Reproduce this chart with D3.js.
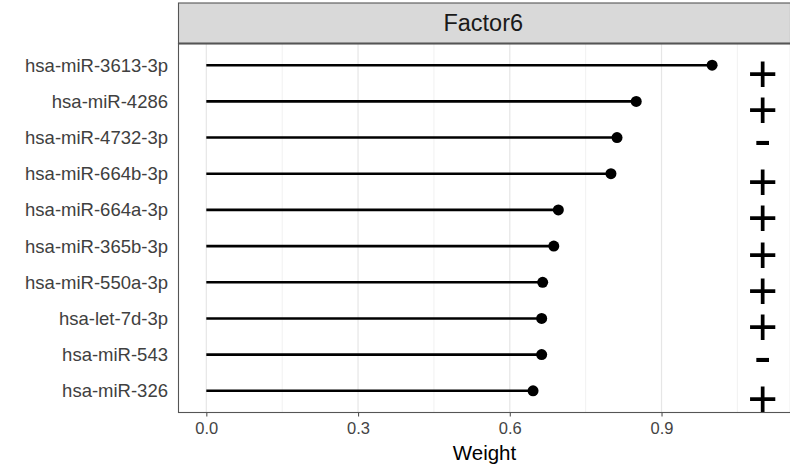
<!DOCTYPE html>
<html>
<head>
<meta charset="utf-8">
<script src="https://cdn.jsdelivr.net/npm/d3@7"></script>
<style>
  html, body { margin: 0; padding: 0; background: #fff; }
  svg { display: block; font-family: "Liberation Sans", Arial, Helvetica, sans-serif; }
</style>
</head>
<body>
<svg id="chart" width="790" height="467"></svg>
<script>
// ---- data ----
const features = ["hsa-miR-3613-3p", "hsa-miR-4286", "hsa-miR-4732-3p", "hsa-miR-664b-3p",
                  "hsa-miR-664a-3p", "hsa-miR-365b-3p", "hsa-miR-550a-3p", "hsa-let-7d-3p",
                  "hsa-miR-543", "hsa-miR-326"];
const weights = [1.0, 0.85, 0.812, 0.80, 0.696, 0.687, 0.665, 0.663, 0.663, 0.646];
const signs = ["+", "+", "-", "+", "+", "+", "+", "+", "-", "+"];
const signPosition = 1.1;
const majorTicks = [0, 0.3, 0.6, 0.9];
const minorTicks = [0.15, 0.45, 0.75, 1.05];
const tickLabels = ["0.0", "0.3", "0.6", "0.9"];
const panelTitle = "Factor6";
const xTitle = "Weight";

// ---- layout ----
const panel = { left: 178.5, right: 790.5, top: 43.5, bottom: 412.5 };
const strip = { top: 3, bottom: 43.5 };

const svg = d3.select("#chart");

const dataMax = signPosition;
const pad = 0.05 * dataMax;
const x = d3.scaleLinear().domain([-pad, dataMax + pad]).range([panel.left, panel.right]);
const y = d3.scalePoint().domain(features).range([panel.top, panel.bottom]).padding(0.6);

// panel background
svg.append("rect")
  .attr("x", panel.left).attr("y", panel.top)
  .attr("width", panel.right - panel.left).attr("height", panel.bottom - panel.top)
  .attr("fill", "#fff");

// grid
svg.append("g").selectAll("line").data(minorTicks).join("line")
  .attr("x1", d => x(d)).attr("x2", d => x(d))
  .attr("y1", panel.top).attr("y2", panel.bottom)
  .attr("stroke", "#eeeeee").attr("stroke-width", 0.8);
svg.append("g").selectAll("line").data(majorTicks).join("line")
  .attr("x1", d => x(d)).attr("x2", d => x(d))
  .attr("y1", panel.top).attr("y2", panel.bottom)
  .attr("stroke", "#e6e6e6").attr("stroke-width", 1.2);

// lollipops
const rows = features.map((f, i) => ({ f, w: weights[i], s: signs[i] }));
svg.append("g").selectAll("line").data(rows).join("line")
  .attr("x1", x(0)).attr("x2", d => x(d.w))
  .attr("y1", d => y(d.f)).attr("y2", d => y(d.f))
  .attr("stroke", "#000").attr("stroke-width", 2.6);
svg.append("g").selectAll("circle").data(rows).join("circle")
  .attr("cx", d => x(d.w)).attr("cy", d => y(d.f)).attr("r", 5.5)
  .attr("fill", "#000");

// signs
svg.append("g").selectAll("text").data(rows).join("text")
  .attr("x", x(signPosition))
  .attr("y", d => y(d.f) + (d.s === "+" ? 26.5 : 19.5))
  .attr("text-anchor", "middle")
  .attr("font-size", 52)
  .attr("fill", "#000")
  .text(d => d.s);

// panel border
svg.append("rect")
  .attr("x", panel.left).attr("y", panel.top)
  .attr("width", panel.right - panel.left).attr("height", panel.bottom - panel.top)
  .attr("fill", "none").attr("stroke", "#555").attr("stroke-width", 1.1);

// strip
svg.append("rect")
  .attr("x", panel.left).attr("y", strip.top)
  .attr("width", panel.right - panel.left).attr("height", strip.bottom - strip.top)
  .attr("fill", "#d9d9d9").attr("stroke", "#555").attr("stroke-width", 1.1);
svg.append("line")
  .attr("x1", panel.left).attr("x2", panel.right)
  .attr("y1", strip.bottom).attr("y2", strip.bottom)
  .attr("stroke", "#555").attr("stroke-width", 1.8);
svg.append("text")
  .attr("x", (panel.left + 788) / 2).attr("y", (strip.top + strip.bottom) / 2)
  .attr("dy", "0.35em")
  .attr("text-anchor", "middle")
  .attr("font-size", 23.5).attr("fill", "#1a1a1a")
  .text(panelTitle);

// x axis
const xAxis = d3.axisBottom(x).tickValues(majorTicks).tickSize(4).tickPadding(6)
  .tickFormat((d, i) => tickLabels[i]);
const gx = svg.append("g").attr("transform", `translate(0,${panel.bottom})`).call(xAxis);
gx.select(".domain").remove();
gx.selectAll(".tick line").attr("stroke", "#555").attr("stroke-width", 1.1);
gx.selectAll(".tick text").attr("font-size", 16.5).attr("fill", "#444")
  .attr("font-family", "Liberation Sans, Arial, sans-serif");

// y axis
const yAxis = d3.axisLeft(y).tickSize(0).tickPadding(10.5);
const gy = svg.append("g").attr("transform", `translate(${panel.left},0)`).call(yAxis);
gy.select(".domain").remove();
gy.selectAll(".tick text").attr("font-size", 18.5).attr("fill", "#404040")
  .attr("font-family", "Liberation Sans, Arial, sans-serif");

// x title
svg.append("text")
  .attr("x", x(0.55)).attr("y", 460)
  .attr("text-anchor", "middle")
  .attr("font-size", 20.5).attr("fill", "#000")
  .text(xTitle);
</script>
</body>
</html>
